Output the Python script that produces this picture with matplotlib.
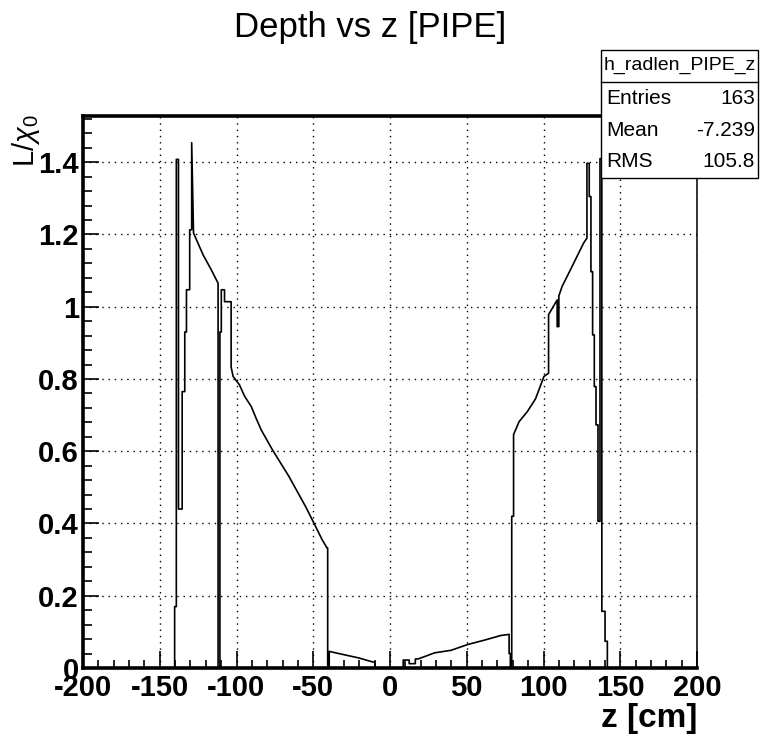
import matplotlib
matplotlib.use("Agg")
import matplotlib.pyplot as plt
from matplotlib.patches import Rectangle
from matplotlib.ticker import MultipleLocator, FuncFormatter

# outline of the h_radlen_PIPE_z histogram (z in cm, L/X0)
z_points = [-140.3, -140.3, -139.2, -139.2, -137.8, -137.8, -135.4, -135.4,
            -133.7, -133.7, -132.6, -132.6, -130.5, -130.5, -129.2, -129.2,
            -128.0, -121.8, -116.4, -112.0, -112.0, -110.8, -110.8, -109.9,
            -109.9, -107.8, -107.8, -103.5, -103.5, -102.2, -98.1, -94.7,
            -90.4, -87.3, -83.9, -76.6, -65.8, -55.0, -48.5, -44.2, -41.0,
            -40.6, -40.6, -39.6, -39.6, -30.2, -20.5, -14.0, -9.7, -9.7,
            8.6, 8.6, 12.5, 12.5, 16.5, 16.5, 18.3, 29.1, 39.8, 50.6, 61.4,
            72.2, 77.6, 77.6, 78.4, 78.4, 79.3, 79.3, 80.5, 80.5, 84.1, 89.5,
            94.8, 100.3, 103.3, 103.3, 108.9, 108.9, 110.0, 110.0, 112.1,
            117.5, 121.8, 126.1, 128.3, 128.3, 129.8, 129.8, 130.9, 130.9,
            132.0, 132.0, 133.1, 133.1, 134.2, 134.2, 135.5, 135.5, 136.8,
            136.8, 138.0, 138.0, 140.1, 140.1, 141.6, 141.6]
depth = [0.0, 0.17, 0.17, 1.408, 1.408, 0.44, 0.44, 0.765,
         0.765, 0.93, 0.93, 1.047, 1.047, 1.213, 1.213, 1.454,
         1.204, 1.144, 1.102, 1.065, 0.0, 0.0, 0.93, 0.93,
         1.047, 1.047, 1.014, 1.014, 0.833, 0.807, 0.784, 0.752,
         0.724, 0.692, 0.659, 0.604, 0.530, 0.447, 0.392, 0.355, 0.332,
         0.332, 0.004, 0.004, 0.046, 0.037, 0.028, 0.020, 0.015, 0.0,
         0.0, 0.022, 0.022, 0.012, 0.012, 0.025, 0.025, 0.042, 0.049, 0.065, 0.077,
         0.090, 0.093, 0.040, 0.040, 0.0, 0.0, 0.42, 0.42, 0.646, 0.682, 0.710,
         0.745, 0.807, 0.816, 0.978, 1.019, 0.945, 0.945, 1.030, 1.056,
         1.102, 1.139, 1.176, 1.190, 1.397, 1.397, 1.305, 1.305, 1.097,
         1.097, 0.922, 0.922, 0.779, 0.779, 0.673, 0.673, 0.406, 0.406,
         1.41, 1.41, 0.157, 0.157, 0.074, 0.074, 0.0]

stats_names = ["Entries", "Mean", "RMS"]
stats_values = ["163", "-7.239", "105.8"]


def main():
    plt.rcParams["font.family"] = ["Liberation Sans", "DejaVu Sans"]
    plt.rcParams["mathtext.fontset"] = "custom"
    plt.rcParams["mathtext.rm"] = "Liberation Sans"
    plt.rcParams["mathtext.it"] = "Liberation Sans:italic"
    plt.rcParams["axes.unicode_minus"] = False

    fig = plt.figure(figsize=(7.61, 7.41), dpi=100)
    ax = fig.add_axes([83 / 761, 73 / 741, 614 / 761, 552 / 741])

    ax.plot(z_points, depth, color="black", linewidth=1.2, zorder=3)

    ax.set_xlim(-200, 200)
    ax.set_ylim(0, 1.528)
    ax.xaxis.set_major_locator(MultipleLocator(50))
    ax.xaxis.set_minor_locator(MultipleLocator(10))
    ax.yaxis.set_major_locator(MultipleLocator(0.2))
    ax.yaxis.set_minor_locator(MultipleLocator(0.04))
    ax.yaxis.set_major_formatter(FuncFormatter(lambda v, p: "%g" % round(v, 2)))

    ax.grid(True, which="major", color="black", linestyle=(0, (1, 3.5)), linewidth=1.0)
    ax.tick_params(which="both", direction="in", top=False, right=False, width=1.2)
    ax.tick_params(axis="x", which="major", length=12, pad=4)
    ax.tick_params(axis="x", which="minor", length=5.5)
    ax.tick_params(axis="y", which="major", length=11.5, pad=3)
    ax.tick_params(axis="y", which="minor", length=6.5)
    for lab in ax.get_xticklabels() + ax.get_yticklabels():
        lab.set_fontsize(21)
        lab.set_fontweight("bold")

    for side in ["left", "bottom", "top"]:
        ax.spines[side].set_linewidth(2.6)
    ax.spines["right"].set_linewidth(1.1)

    fig.text(370 / 761, 1 - 28 / 741, "Depth vs z [PIPE]", fontsize=25,
             ha="center", va="center")
    fig.text(697 / 761, 1 - 718 / 741, "z [cm]", fontsize=24, fontweight="bold",
             ha="right", va="center")
    fig.text(26 / 761, 1 - 114 / 741, r"L/$\chi_{0}$", fontsize=21,
             rotation=90, ha="center", va="top")

    # stats box
    box = Rectangle((601 / 761, 1 - 178 / 741), 157 / 761, 128 / 741,
                    transform=fig.transFigure, facecolor="white",
                    edgecolor="black", linewidth=1.0, zorder=10)
    fig.patches.append(box)
    fig.add_artist(plt.Line2D([601 / 761, 758 / 761], [1 - 81.7 / 741, 1 - 81.7 / 741],
                              transform=fig.transFigure, color="black",
                              linewidth=1.0, zorder=11))
    fig.text(679.5 / 761, 1 - 65 / 741, "h_radlen_PIPE_z", fontsize=14,
             ha="center", va="center", zorder=12)
    row_y = [98.3, 130, 161.7]
    for name, value, yy in zip(stats_names, stats_values, row_y):
        fig.text(606 / 761, 1 - yy / 741, name, fontsize=15,
                 ha="left", va="center", zorder=12)
        fig.text(755 / 761, 1 - yy / 741, value, fontsize=15,
                 ha="right", va="center", zorder=12)

    plt.savefig("out.png", dpi=100)
    plt.close()


if __name__ == "__main__":
    main()
